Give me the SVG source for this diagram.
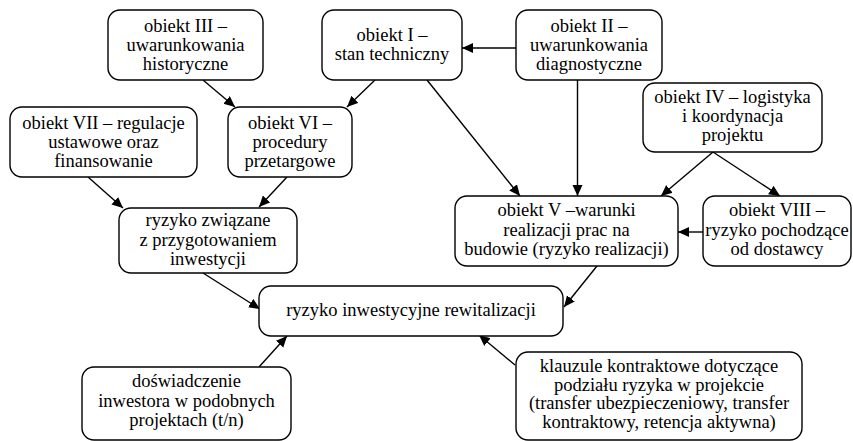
<svg xmlns="http://www.w3.org/2000/svg" width="853" height="441" viewBox="0 0 853 441">
<style>
.box{fill:#fff;stroke:#000;stroke-width:1.4}
.t{font-family:'Liberation Serif','DejaVu Serif',serif;font-size:18.5px;fill:#000;text-anchor:middle}
.e{stroke:#000;stroke-width:1.4;fill:none;marker-end:url(#ah)}
</style>
<defs>
<marker id="ah" markerUnits="userSpaceOnUse" markerWidth="12" markerHeight="11" refX="11" refY="5" orient="auto">
<path d="M0,0 L11,5 L0,10 z" fill="#000"/>
</marker>
</defs>
<rect width="853" height="441" fill="#fff"/>
<g id="connectors">
<line class="e" x1="203" y1="80" x2="235" y2="107"/>
<line class="e" x1="375" y1="80" x2="347" y2="107"/>
<line class="e" x1="516" y1="48" x2="462" y2="48"/>
<line class="e" x1="427" y1="80" x2="520" y2="196"/>
<line class="e" x1="577.5" y1="80" x2="577.5" y2="196"/>
<line class="e" x1="713" y1="152" x2="661" y2="196"/>
<line class="e" x1="713" y1="152" x2="780" y2="196"/>
<line class="e" x1="703" y1="232" x2="678" y2="232"/>
<line class="e" x1="88" y1="177" x2="123" y2="208"/>
<line class="e" x1="287" y1="177" x2="259" y2="207"/>
<line class="e" x1="203" y1="273" x2="260" y2="309"/>
<line class="e" x1="597" y1="266" x2="564" y2="307"/>
<line class="e" x1="259" y1="367" x2="287" y2="336"/>
<line class="e" x1="515" y1="365" x2="479" y2="335"/>
</g>
<g id="n3"><rect class="box" x="108" y="10" width="155" height="70" rx="12"/>
<text class="t" x="185.5" y="31.5">obiekt III –</text><text class="t" x="185.5" y="50.5">uwarunkowania</text><text class="t" x="185.5" y="69.5">historyczne</text></g>
<g id="n1"><rect class="box" x="322" y="10" width="140" height="70" rx="12"/>
<text class="t" x="392" y="41">obiekt I –</text><text class="t" x="392" y="60">stan techniczny</text></g>
<g id="n2"><rect class="box" x="516" y="10" width="146" height="70" rx="12"/>
<text class="t" x="589" y="31.5">obiekt II –</text><text class="t" x="589" y="50.5">uwarunkowania</text><text class="t" x="589" y="69.5">diagnostyczne</text></g>
<g id="n4"><rect class="box" x="643" y="83" width="179" height="69" rx="12"/>
<text class="t" x="732.5" y="102.5">obiekt IV – logistyka</text><text class="t" x="732.5" y="121.5">i koordynacja</text><text class="t" x="732.5" y="140.5">projektu</text></g>
<g id="n7"><rect class="box" x="10" y="107" width="187" height="70" rx="12"/>
<text class="t" x="103.5" y="128.5">obiekt VII – regulacje</text><text class="t" x="103.5" y="147.5">ustawowe oraz</text><text class="t" x="103.5" y="166.5">finansowanie</text></g>
<g id="n6"><rect class="box" x="228" y="107" width="124" height="70" rx="12"/>
<text class="t" x="290" y="128.5">obiekt VI –</text><text class="t" x="290" y="147.5">procedury</text><text class="t" x="290" y="166.5">przetargowe</text></g>
<g id="rz"><rect class="box" x="119" y="208" width="178" height="65" rx="12"/>
<text class="t" x="208" y="226">ryzyko związane</text><text class="t" x="208" y="245.5">z przygotowaniem</text><text class="t" x="208" y="265">inwestycji</text></g>
<g id="n5"><rect class="box" x="455" y="196" width="223" height="70" rx="12"/>
<text class="t" x="566.5" y="216">obiekt V –warunki</text><text class="t" x="566.5" y="235.5">realizacji prac na</text><text class="t" x="566.5" y="255">budowie (ryzyko realizacji)</text></g>
<g id="n8"><rect class="box" x="703" y="196" width="148" height="70" rx="12"/>
<text class="t" x="777" y="216">obiekt VIII –</text><text class="t" x="777" y="235.5">ryzyko pochodzące</text><text class="t" x="777" y="255">od dostawcy</text></g>
<g id="main"><rect class="box" x="259" y="286" width="304" height="50" rx="12"/>
<text class="t" x="411" y="316">ryzyko inwestycyjne rewitalizacji</text></g>
<g id="dosw"><rect class="box" x="82" y="367" width="209" height="73" rx="12"/>
<text class="t" x="186.5" y="387">doświadczenie</text><text class="t" x="186.5" y="406.5">inwestora w podobnych</text><text class="t" x="186.5" y="426">projektach (t/n)</text></g>
<g id="klauz"><rect class="box" x="516" y="352" width="286" height="88" rx="12"/>
<text class="t" x="659" y="372">klauzule kontraktowe dotyczące</text><text class="t" x="659" y="390.5">podziału ryzyka w projekcie</text><text class="t" x="659" y="409">(transfer ubezpieczeniowy, transfer</text><text class="t" x="659" y="427.5">kontraktowy, retencja aktywna)</text></g>
</svg>
